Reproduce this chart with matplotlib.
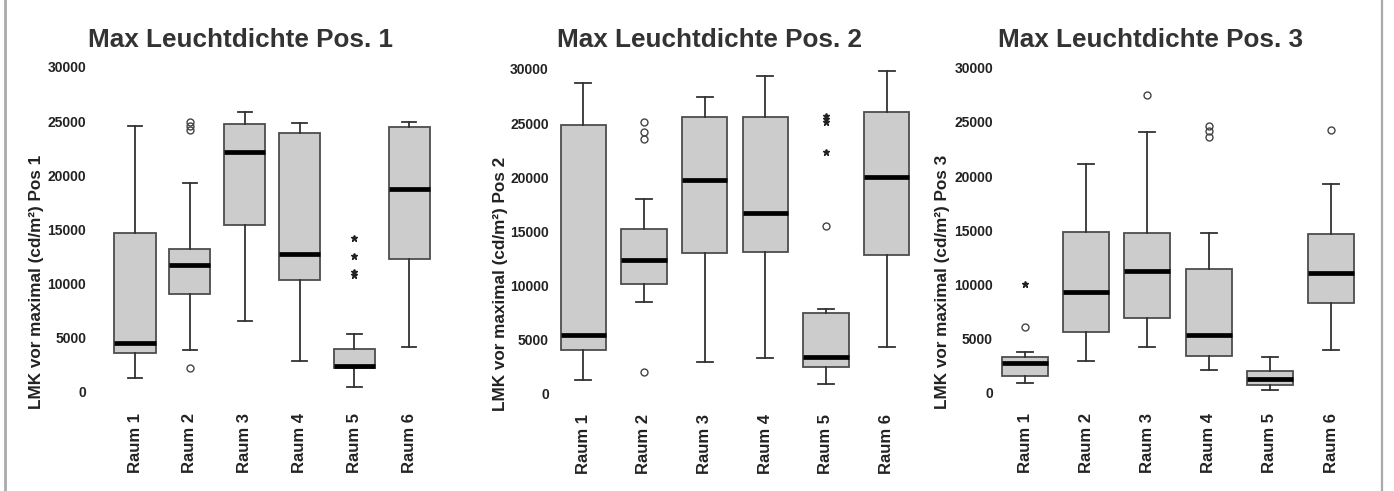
#!/usr/bin/env python3

import numpy as np
import matplotlib

matplotlib.use("Agg")
import matplotlib.pyplot as plt
from matplotlib.lines import Line2D

plt.rcParams["font.family"] = ["Liberation Sans", "DejaVu Sans"]

FIG_W, FIG_H = 1394, 491
ROOMS = ["Raum 1", "Raum 2", "Raum 3", "Raum 4", "Raum 5", "Raum 6"]
YTICKS = [0, 5000, 10000, 15000, 20000, 25000, 30000]

# Pos. 1
P1_MED = [4490, 11720, 22120, 12770, 2430, 18740]
P1_Q1 = [3570, 9020, 15380, 10310, 2220, 12300]
P1_Q3 = [14650, 13200, 24740, 23940, 3970, 24430]
P1_LO = [1320, 3880, 6580, 2890, 490, 4180]
P1_HI = [24580, 19320, 25850, 24800, 5320, 24890]
P1_OUT = [[], [24950, 24550, 24180, 2240], [], [], [], []]
P1_EXT = [[], [], [], [], [14250, 12580, 11050, 10800], []]

# Pos. 2
P2_MED = [5390, 12330, 19730, 16650, 3330, 19980]
P2_Q1 = [4000, 10110, 13010, 13100, 2460, 12790]
P2_Q3 = [24820, 15170, 25590, 25590, 7400, 26050]
P2_LO = [1230, 8420, 2920, 3240, 860, 4310]
P2_HI = [28680, 17970, 27440, 29380, 7800, 29840]
P2_OUT = [[], [25070, 24140, 23490, 2000], [], [], [15480], []]
P2_EXT = [[], [], [], [], [25650, 25380, 25120, 22290], []]

# Pos. 3
P3_MED = [2770, 9320, 11260, 5330, 1230, 11020]
P3_Q1 = [1540, 5570, 6870, 3420, 710, 8270]
P3_Q3 = [3320, 14800, 14710, 11390, 2000, 14620]
P3_LO = [860, 2950, 4250, 2100, 250, 3940]
P3_HI = [3720, 21110, 24030, 14710, 3320, 19260]
P3_OUT = [[6090], [], [27480], [24650, 24130, 23600], [], [24280]]
P3_EXT = [[10000], [], [], [], [], []]

YLIM = (-1000, 31000)


def axes_rect(left_px, right_px, y0_px, y30_px):
    scale = (y0_px - y30_px) / 30000
    top_px = y30_px - (YLIM[1] - 30000) * scale
    bottom_px = y0_px - YLIM[0] * scale
    return [
        left_px / FIG_W,
        1 - bottom_px / FIG_H,
        (right_px - left_px) / FIG_W,
        (bottom_px - top_px) / FIG_H,
    ]


def draw_panel(fig, rect, ypad, med, q1, q3, lo, hi, out, ext):
    ax = fig.add_axes(rect)
    stats = [
        dict(med=m, q1=a, q3=b, whislo=w0, whishi=w1, fliers=f)
        for m, a, b, w0, w1, f in zip(med, q1, q3, lo, hi, out)
    ]
    pos = np.arange(1, len(stats) + 1)
    ax.bxp(
        stats,
        positions=pos,
        widths=0.75,
        capwidths=0.26,
        patch_artist=True,
        boxprops=dict(facecolor="#cccccc", edgecolor="#4d4d4d", linewidth=1.3),
        medianprops=dict(color="black", linewidth=3.4, solid_capstyle="butt"),
        whiskerprops=dict(color="#333333", linewidth=1.3),
        capprops=dict(color="#333333", linewidth=1.3),
        flierprops=dict(
            marker="o",
            markersize=5,
            markerfacecolor="none",
            markeredgecolor="#444444",
            markeredgewidth=1.0,
            linestyle="none",
        ),
    )
    for p, e in zip(pos, ext):
        if e:
            ax.plot(
                np.full(len(e), p),
                e,
                marker="*",
                markersize=5,
                color="#222222",
                linestyle="none",
            )
    ax.set_xlim(0.5, 6.5)
    ax.set_ylim(*YLIM)
    ax.set_xticks(pos)
    ax.set_xticklabels(ROOMS, rotation=90, fontsize=12, fontweight="bold",
                       color="#222222")
    ax.set_yticks(YTICKS)
    ax.set_yticklabels([str(v) for v in YTICKS], fontsize=10,
                       fontweight="bold", color="#222222")
    ax.tick_params(axis="x", length=0, pad=7)
    ax.tick_params(axis="y", length=0, pad=ypad)
    for s in ax.spines.values():
        s.set_visible(False)
    return ax


def main():
    fig = plt.figure(figsize=(FIG_W / 100, FIG_H / 100), dpi=100)

    panels = [
        (axes_rect(107.6, 436.7, 392.0, 67.0), 15.5,
         P1_MED, P1_Q1, P1_Q3, P1_LO, P1_HI, P1_OUT, P1_EXT),
        (axes_rect(553.0, 917.0, 393.3, 69.0), 3,
         P2_MED, P2_Q1, P2_Q3, P2_LO, P2_HI, P2_OUT, P2_EXT),
        (axes_rect(994.4, 1361.6, 392.7, 67.7), 1,
         P3_MED, P3_Q1, P3_Q3, P3_LO, P3_HI, P3_OUT, P3_EXT),
    ]
    for p in panels:
        draw_panel(fig, *p)

    titles = [(241, "Max Leuchtdichte Pos. 1"),
              (709, "Max Leuchtdichte Pos. 2"),
              (1151, "Max Leuchtdichte Pos. 3")]
    for x, t in titles:
        fig.text(x / FIG_W, 1 - 47 / FIG_H, t, ha="center", va="baseline",
                 fontsize=18.8, fontweight="bold", color="#333333")

    ylabels = [(37, 281.5, "LMK vor maximal (cd/m²) Pos 1"),
               (500, 283.5, "LMK vor maximal (cd/m²) Pos 2"),
               (943, 282, "LMK vor maximal (cd/m²) Pos 3")]
    for x, y, t in ylabels:
        fig.text(x / FIG_W, 1 - y / FIG_H, t, ha="center", va="center",
                 rotation=90, fontsize=12.3, fontweight="bold",
                 color="#222222")

    # light grey frame lines on the left and right
    for x, lw in [(5, 2.0), (1382.3, 1.6)]:
        fig.add_artist(Line2D([x / FIG_W] * 2, [0, 1], color="#aaaaaa",
                              linewidth=lw, transform=fig.transFigure))

    fig.savefig("out.png", dpi=100)


if __name__ == "__main__":
    main()
